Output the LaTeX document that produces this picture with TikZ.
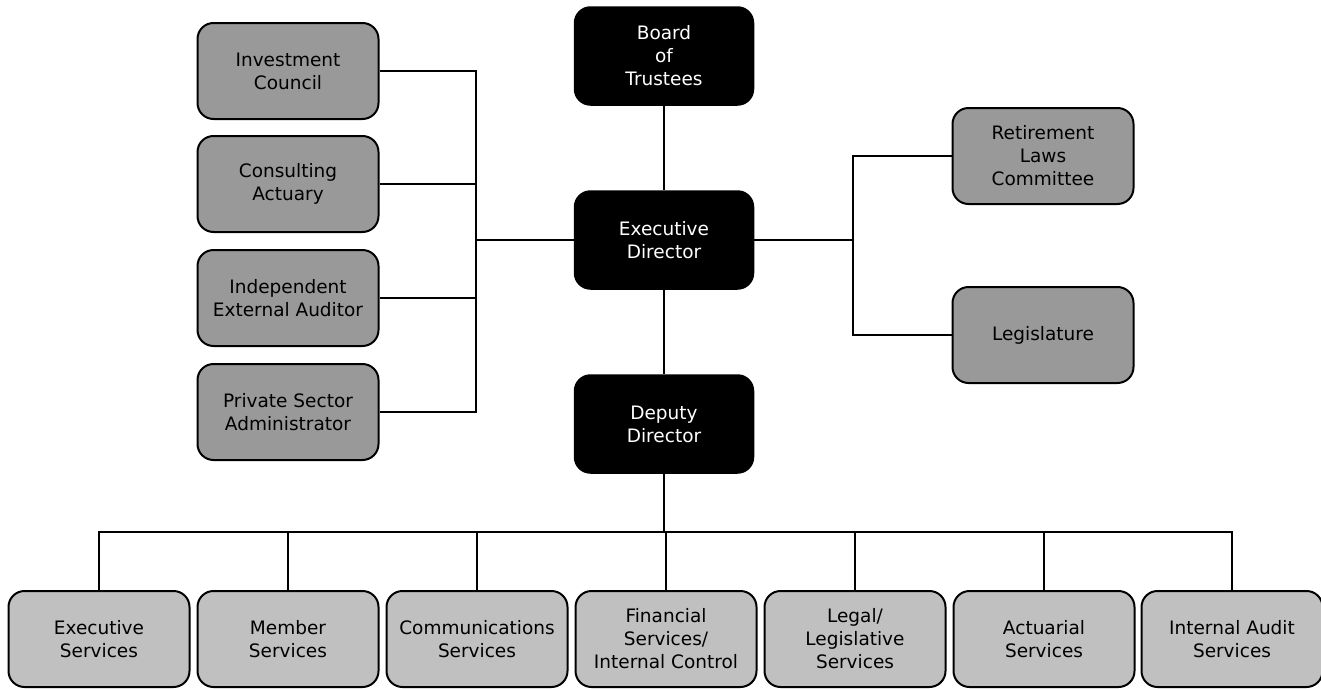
\documentclass[tikz,border=0pt]{standalone}
\usepackage{fontspec}
\setmainfont{DejaVu Sans}
\definecolor{sidegray}{HTML}{999999}
\definecolor{unitgray}{HTML}{C0C0C0}

\begin{document}
\begin{tikzpicture}[x=1pt, y=-1pt,
    every node/.style={font=\fontsize{18.5}{23}\selectfont, align=center, inner sep=0pt},
    headbox/.style={draw=black, fill=black, text=white, rounded corners=16pt,
      line width=1.5pt, minimum width=179pt, minimum height=98pt},
    sidebox/.style={draw=black, fill=sidegray, rounded corners=16pt,
      line width=2pt, minimum width=181pt, minimum height=96pt},
    unitbox/.style={sidebox, fill=unitgray},
    link/.style={line width=1.6pt}]
  \useasboundingbox (0,0) rectangle (1321,688);

  \node[headbox] (board) at (664,56) {Board\\of\\Trustees};
  \node[headbox] (execdir) at (664,240) {Executive\\Director};
  \node[headbox] (deputy) at (664,424) {Deputy\\Director};

  \node[sidebox] (invest) at (288,71) {Investment\\Council};
  \node[sidebox] (actuary) at (288,184) {Consulting\\Actuary};
  \node[sidebox] (auditor) at (288,298) {Independent\\External Auditor};
  \node[sidebox] (privsector) at (288,412) {Private Sector\\Administrator};

  \node[sidebox] (retire) at (1043,156) {Retirement\\Laws\\Committee};
  \node[sidebox] (legis) at (1043,335) {Legislature};

  \foreach \name/\x/\txt in {
      execsvc/99/{Executive\\Services},
      membersvc/288/{Member\\Services},
      commsvc/477/{Communications\\Services},
      finsvc/666/{Financial\\Services/\\Internal Control},
      legalsvc/855/{Legal/\\Legislative\\Services},
      actsvc/1044/{Actuarial\\Services},
      auditsvc/1232/{Internal Audit\\Services}}
    \node[unitbox] (\name) at (\x,639) {\txt};

  \coordinate (leftbus) at (476,240);
  \coordinate (rightbus) at (853,240);
  \coordinate (unitbus) at (664,532);

  \draw[link] (board) -- (execdir);
  \draw[link] (execdir) -- (deputy);
  \draw[link] (deputy) -- (unitbus);

  \draw[link] (execdir.west) -- (leftbus);
  \draw[link] (invest.east) -| (leftbus);
  \draw[link] (actuary.east) -| (leftbus);
  \draw[link] (auditor.east) -| (leftbus);
  \draw[link] (privsector.east) -| (leftbus);

  \draw[link] (execdir.east) -- (rightbus);
  \draw[link] (retire.west) -| (rightbus);
  \draw[link] (legis.west) -| (rightbus);

  \foreach \name in {execsvc,membersvc,commsvc,finsvc,legalsvc,actsvc,auditsvc}
    \draw[link] (unitbus) -| (\name.north);
\end{tikzpicture}
\end{document}
